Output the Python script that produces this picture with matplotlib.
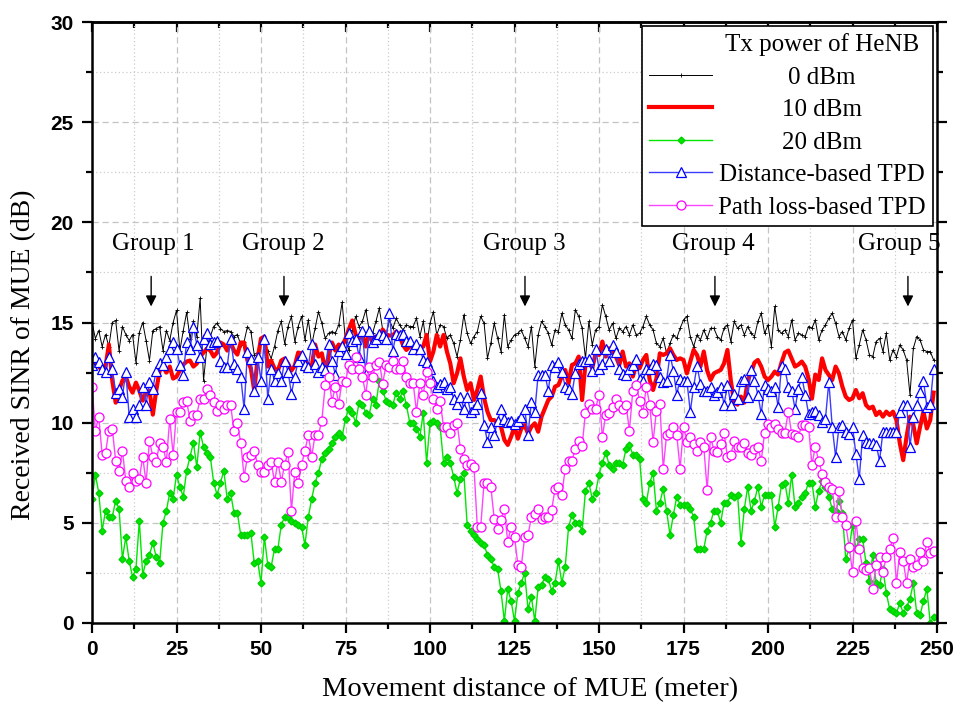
import matplotlib
matplotlib.use('Agg')
import matplotlib.pyplot as plt
from matplotlib.lines import Line2D
from matplotlib.ticker import MultipleLocator
import numpy as np

# movement distance of the MUE, one sample per metre
distance = np.arange(250)

sinr_0dbm = [
    15.0, 14.2, 14.6, 13.8, 14.4, 13.8, 15.0, 15.1, 13.6, 14.8,
    14.4, 14.1, 14.4, 13.0, 14.5, 15.0, 14.1, 13.1, 14.6, 14.7,
    14.8, 13.6, 14.6, 14.1, 15.0, 15.6, 13.6, 14.6, 15.5, 14.2,
    15.05, 14.3, 16.2, 12.1, 13.8, 14.3, 14.8, 14.96, 14.7, 14.55,
    14.6, 14.55, 14.3, 14.4, 13.9, 14.05, 14.8, 14.55, 13.4, 13.5,
    14.2, 14.05, 13.6, 13.2, 13.8, 14.6, 15.05, 13.95, 14.8, 15.3,
    14.05, 14.8, 15.3, 14.13, 15.13, 13.88, 14.71, 15.54, 14.96, 14.21,
    14.46, 14.55, 14.46, 14.88, 16.0, 14.05, 13.63, 14.63, 15.3, 14.8,
    15.05, 15.63, 14.63, 14.46, 15.05, 15.71, 14.63, 14.38, 15.13, 14.71,
    15.21, 14.88, 14.63, 14.88, 14.8, 14.8, 15.21, 14.3, 15.05, 13.88,
    14.96, 15.54, 14.38, 14.88, 14.8, 14.21, 14.38, 13.96, 13.3, 14.13,
    15.38, 14.46, 13.96, 14.3, 14.55, 15.3, 14.96, 13.21, 13.96, 14.96,
    14.21, 13.55, 15.38, 13.8, 14.13, 14.38, 14.46, 14.63, 14.21, 13.8,
    14.8, 12.8, 14.38, 15.05, 14.8, 14.46, 13.88, 14.63, 14.55, 15.46,
    14.88, 14.63, 14.21, 15.63, 15.3, 14.71, 13.21, 15.05, 13.88, 14.63,
    14.8, 15.88, 15.3, 14.63, 14.96, 14.21, 14.71, 14.55, 14.8, 14.38,
    14.88, 14.38, 14.46, 14.8, 15.3, 14.88, 14.63, 13.96, 13.8, 14.21,
    13.46, 13.96, 14.38, 14.21, 14.71, 15.13, 15.3, 14.3, 13.8, 14.38,
    14.13, 14.63, 14.21, 14.71, 14.71, 14.3, 14.13, 14.71, 14.88, 14.05,
    15.05, 14.71, 14.88, 14.38, 14.8, 14.46, 14.3, 15.05, 15.46, 14.46,
    14.88, 13.8, 15.8, 14.63, 14.46, 14.63, 14.3, 15.13, 14.13, 14.46,
    14.38, 14.3, 14.8, 14.71, 15.13, 14.13, 14.63, 14.88, 15.21, 15.46,
    14.96, 14.3, 14.55, 14.13, 14.71, 15.13, 13.21, 13.88, 14.63, 14.13,
    13.38, 13.3, 14.05, 14.21, 13.55, 14.46, 13.13, 13.63, 13.3, 13.88,
    13.63, 13.13, 11.4, 13.71, 14.3, 14.13, 13.63, 13.55, 13.55, 13.13,
]

sinr_10dbm = [
    13.05, 12.9, 12.8, 12.6, 12.8, 13.9, 12.1, 11.0, 11.6, 12.1,
    12.3, 11.8, 11.5, 12.0, 11.6, 11.1, 11.5, 11.6, 10.4, 11.6,
    12.6, 12.8, 12.5, 12.8, 12.2, 12.3, 12.6, 12.9, 13.05, 13.1,
    12.8, 12.95, 13.3, 13.5, 13.7, 13.6, 13.3, 13.5, 14.0, 13.9,
    13.6, 14.0, 13.6, 13.4, 14.0, 14.0, 13.1, 12.7, 11.6, 13.2,
    14.2, 14.3, 12.8, 13.1, 12.7, 12.6, 13.1, 13.2, 12.95, 12.6,
    12.85, 13.5, 13.45, 13.1, 12.9, 12.8, 13.9, 13.3, 13.46, 12.6,
    13.3, 14.0, 13.6, 13.9, 13.8, 14.2, 14.65, 15.1, 14.4, 14.2,
    14.35, 13.8, 14.55, 13.96, 14.3, 14.2, 14.65, 14.4, 14.35, 14.35,
    14.55, 14.35, 13.88, 13.63, 13.8, 13.88, 13.46, 13.71, 13.8, 14.38,
    13.05, 13.55, 14.38, 13.8, 14.38, 13.55, 12.96, 11.97, 12.46, 13.21,
    12.3, 11.63, 11.97, 11.13, 11.63, 12.3, 11.22, 10.55, 10.13, 10.13,
    9.97, 9.8, 9.14, 8.89, 9.3, 9.8, 9.2, 9.7, 9.88, 9.46,
    9.8, 9.97, 9.55, 10.3, 10.71, 11.13, 11.3, 11.8, 11.88, 12.3,
    12.63, 11.97, 12.88, 12.96, 13.3, 11.13, 12.96, 13.13, 12.71, 13.46,
    13.38, 14.05, 13.3, 13.71, 13.55, 13.3, 12.88, 13.55, 12.8, 12.96,
    12.3, 12.88, 12.71, 13.13, 13.38, 12.13, 11.63, 12.21, 13.46, 13.38,
    13.46, 13.71, 13.38, 13.13, 13.21, 13.13, 12.46, 13.05, 13.63, 13.38,
    12.8, 13.55, 12.6, 12.13, 12.46, 12.55, 12.63, 12.96, 13.63, 12.1,
    11.0, 10.9, 11.3, 11.0, 12.1, 12.5, 13.0, 13.13, 12.8, 12.3,
    12.13, 12.3, 12.55, 12.4, 13.0, 13.5, 13.6, 13.2, 12.8, 12.9,
    13.05, 12.8, 12.2, 11.2, 12.4, 12.13, 13.21, 12.63, 12.38, 12.13,
    12.8, 12.46, 11.8, 11.3, 11.13, 11.22, 11.63, 11.22, 11.47, 10.88,
    10.71, 10.8, 10.38, 10.55, 10.3, 10.55, 10.38, 10.55, 10.13, 8.97,
    8.13, 9.3, 10.3, 9.88, 8.97, 9.8, 10.55, 9.71, 10.13, 11.5,
]

sinr_20dbm = [
    6.2, 7.4, 6.5, 4.6, 5.6, 5.3, 5.3, 6.1, 5.7, 3.2,
    4.3, 3.1, 2.3, 2.7, 5.1, 2.4, 3.1, 3.4, 4.0, 3.3,
    3.0, 5.0, 5.6, 6.5, 6.2, 7.4, 6.8, 6.3, 7.6, 8.3,
    9.0, 7.8, 9.5, 8.8, 8.5, 8.3, 7.0, 6.4, 7.0, 7.6,
    6.2, 6.5, 5.5, 5.5, 4.4, 4.4, 4.4, 4.5, 3.0, 3.1,
    2.0, 4.3, 2.9, 2.8, 3.7, 3.7, 4.9, 5.3, 5.3, 5.1,
    5.0, 4.9, 4.8, 3.9, 5.3, 6.2, 7.0, 7.5, 8.2, 8.5,
    8.7, 9.0, 9.3, 9.5, 9.3, 10.2, 10.7, 10.5, 10.0, 11.0,
    10.9, 10.5, 10.4, 11.2, 10.9, 12.1, 11.6, 11.1, 11.0, 10.9,
    11.5, 11.2, 11.6, 10.9, 10.0, 10.0, 9.7, 9.3, 10.5, 8.0,
    10.0, 10.1, 10.0, 9.8, 8.0, 8.3, 8.0, 7.3, 6.5, 7.2,
    7.5, 4.9, 4.6, 4.4, 4.2, 4.0, 3.9, 3.4, 3.2, 2.8,
    2.7, 1.6, 0.1, 1.7, 1.1, 0.1, 1.5, 2.0, 2.5, 0.7,
    1.3, 0.1, 1.8, 1.9, 2.3, 2.2, 1.6, 2.0, 3.1, 2.0,
    2.8, 4.8, 5.4, 5.0, 5.0, 4.6, 6.6, 7.0, 6.2, 6.5,
    7.4, 8.0, 8.5, 7.9, 7.7, 8.0, 8.0, 7.9, 8.7, 8.9,
    8.4, 8.4, 8.2, 6.2, 6.0, 7.0, 7.5, 5.6, 6.0, 6.7,
    5.6, 4.4, 5.4, 6.3, 5.9, 5.9, 5.9, 5.7, 5.3, 3.7,
    3.7, 3.7, 4.6, 5.0, 5.6, 5.6, 5.0, 6.0, 6.0, 6.4,
    6.3, 6.4, 4.0, 5.7, 6.8, 5.6, 6.1, 6.8, 5.8, 6.4,
    6.4, 6.4, 4.8, 5.8, 6.9, 7.0, 6.0, 7.4, 5.8, 6.0,
    6.3, 6.5, 7.0, 7.0, 5.8, 6.6, 7.1, 6.8, 6.3, 5.7,
    5.6, 6.1, 5.5, 3.2, 3.7, 4.9, 3.7, 4.2, 4.2, 3.0,
    2.1, 3.4, 2.0, 1.9, 2.7, 1.5, 0.7, 0.6, 0.5, 1.0,
    0.5, 0.8, 1.2, 2.0, 0.5, 0.4, 1.1, 1.7, 0.0, 0.3,
]

sinr_dist_tpd = [
    12.9, 13.3, 13.05, 12.7, 12.55, 13.3, 12.7, 11.5, 11.7, 11.3,
    12.55, 10.3, 10.7, 10.3, 10.9, 11.8, 10.9, 12.05, 11.7, 12.6,
    13.0, 12.9, 13.3, 13.7, 14.05, 13.7, 12.9, 12.4, 14.05, 13.7,
    14.8, 13.9, 13.3, 14.2, 14.5, 13.95, 14.05, 14.1, 13.1, 12.8,
    12.8, 14.2, 12.95, 12.7, 12.3, 10.7, 13.55, 13.2, 11.6, 13.3,
    12.1, 14.2, 11.2, 12.7, 12.1, 12.5, 12.1, 13.1, 12.55, 11.45,
    12.3, 13.1, 13.4, 12.9, 12.8, 13.95, 12.95, 12.55, 12.8, 12.65,
    13.95, 13.1, 12.4, 13.6, 13.85, 13.45, 14.5, 14.1, 14.2, 13.3,
    14.6, 12.45, 14.6, 14.05, 14.2, 14.45, 14.4, 14.2, 15.45, 13.6,
    14.45, 14.4, 14.45, 14.1, 14.1, 13.7, 13.95, 13.7, 13.15, 13.05,
    12.7, 12.1, 11.8, 11.95, 12.05, 11.7, 11.8, 11.2, 10.95, 11.3,
    10.7, 11.3, 10.55, 10.7, 10.95, 11.5, 9.9, 9.05, 9.8, 9.4,
    10.1, 10.7, 10.2, 10.05, 10.1, 9.95, 10.1, 10.3, 10.7, 9.4,
    11.05, 10.55, 12.4, 12.4, 12.4, 11.6, 12.9, 12.8, 13.05, 12.55,
    11.8, 11.7, 11.45, 12.5, 12.95, 13.1, 13.1, 13.2, 12.6, 13.7,
    12.7, 12.95, 13.7, 13.1, 13.9, 13.55, 12.7, 12.45, 12.4, 12.7,
    12.9, 13.2, 12.2, 12.1, 12.7, 12.7, 12.95, 12.9, 12.3, 12.05,
    12.1, 13.4, 12.6, 11.4, 12.2, 12.1, 12.1, 10.55, 11.8, 12.85,
    11.95, 11.6, 11.6, 11.8, 11.4, 11.55, 11.8, 10.9, 11.9, 10.9,
    11.45, 11.2, 12.1, 12.2, 11.3, 12.65, 12.1, 11.4, 10.45, 11.9,
    11.7, 11.6, 11.8, 10.8, 12.85, 12.7, 11.8, 11.6, 10.7, 11.7,
    12.3, 11.4, 10.45, 10.55, 10.6, 10.4, 10.05, 10.2, 12.05, 9.8,
    8.3, 9.8, 9.9, 9.55, 9.45, 9.8, 8.45, 7.2, 9.4, 9.05,
    8.97, 8.97, 8.9, 8.1, 9.55, 9.55, 9.55, 9.55, 9.55, 10.55,
    10.9, 10.9, 8.8, 10.3, 10.9, 11.55, 12.1, 10.8, 10.95, 12.7,
]

sinr_pl_tpd = [
    11.8, 9.6, 10.3, 8.4, 8.5, 9.6, 9.7, 8.1, 7.6, 8.6,
    7.1, 6.8, 7.5, 7.1, 7.2, 8.3, 7.0, 9.1, 8.3, 8.05,
    9.0, 8.8, 8.05, 10.2, 8.4, 10.55, 10.55, 11.05, 11.1, 10.1,
    10.4, 10.4, 11.2, 11.2, 11.7, 11.4, 11.05, 10.6, 10.9, 10.7,
    10.9, 10.9, 9.6, 9.96, 9.0, 7.3, 8.3, 8.4, 8.6, 7.9,
    7.55, 7.55, 7.9, 8.05, 7.05, 8.05, 7.05, 7.9, 8.55, 5.6,
    7.55, 6.97, 7.9, 8.6, 9.4, 8.3, 9.4, 9.4, 10.1, 11.9,
    12.3, 11.05, 11.8, 10.95, 12.1, 12.05, 12.9, 12.7, 13.3, 12.7,
    12.3, 11.4, 12.8, 12.3, 12.9, 13.05, 11.95, 12.9, 12.8, 13.1,
    12.7, 12.7, 13.1, 12.3, 12.0, 12.0, 10.55, 12.0, 11.4, 12.55,
    12.0, 11.2, 10.7, 11.1, 9.8, 9.8, 9.5, 9.9, 10.0, 8.7,
    8.2, 7.9, 7.95, 7.8, 4.8, 4.8, 7.0, 7.0, 6.8, 5.2,
    4.7, 5.15, 5.7, 4.05, 4.8, 4.3, 2.9, 2.8, 4.3, 4.4,
    5.3, 5.45, 5.7, 5.2, 5.3, 5.3, 5.65, 6.7, 6.8, 6.4,
    7.7, 8.1, 8.1, 8.7, 9.1, 8.85, 10.5, 10.95, 10.7, 10.7,
    11.4, 9.3, 10.4, 10.5, 10.8, 11.2, 10.9, 10.7, 10.9, 9.6,
    11.6, 11.9, 11.1, 10.5, 11.8, 10.9, 9.05, 10.6, 10.95, 7.7,
    9.4, 9.5, 9.8, 9.4, 7.7, 9.8, 9.05, 9.3, 8.95, 8.6,
    9.05, 8.8, 6.65, 9.3, 8.6, 8.55, 8.95, 9.5, 8.3, 8.4,
    9.1, 8.8, 8.8, 9.0, 8.5, 8.4, 8.7, 8.8, 8.1, 9.5,
    9.95, 9.8, 9.95, 9.7, 9.5, 9.5, 10.55, 9.45, 9.4, 9.3,
    9.9, 9.9, 9.8, 7.9, 8.8, 8.1, 7.45, 7.05, 6.8, 6.7,
    5.3, 6.6, 5.3, 4.9, 3.8, 2.55, 5.1, 3.7, 2.75, 2.65,
    2.75, 1.7, 2.9, 3.3, 2.55, 3.3, 3.7, 4.25, 2.0, 3.55,
    3.1, 2.0, 3.2, 2.8, 2.9, 3.55, 3.1, 4.05, 3.5, 3.6,
]

group_names = ['Group 1', 'Group 2', 'Group 3', 'Group 4', 'Group 5']
group_arrow_x = [17.5, 56.8, 128.1, 184.3, 241.4]
group_text_x = [18.0, 56.5, 127.8, 183.9, 238.8]

serif = 'Liberation Serif'
sans = 'Liberation Sans'

fig = plt.figure(figsize=(9.6, 7.08), dpi=100)
ax = fig.add_axes([92 / 960, 1 - 623 / 708, 845 / 960, 601 / 708])

ax.plot(distance, sinr_0dbm, color='black', lw=0.7, marker='+', ms=3, mew=0.6,
        label='0 dBm')
ax.plot(distance, sinr_10dbm, color='#ff0000', lw=3, label='10 dBm')
ax.plot(distance, sinr_20dbm, color='#00e600', lw=1, marker='D', ms=3.5,
        mec='#00d000', mfc='#00e600', label='20 dBm')
ax.plot(distance, sinr_dist_tpd, color='#3c3cff', lw=1, marker='^', ms=6.5,
        mfc='white', mec='#0000ff', mew=0.9, label='Distance-based TPD')
ax.plot(distance, sinr_pl_tpd, color='#ff44ff', lw=1, marker='o', ms=6.5,
        mfc='white', mec='#ff00ff', mew=0.9, label='Path loss-based TPD')

ax.set_xlim(0, 250)
ax.set_ylim(0, 30)
ax.xaxis.set_major_locator(MultipleLocator(25))
ax.xaxis.set_minor_locator(MultipleLocator(12.5))
ax.yaxis.set_major_locator(MultipleLocator(5))
ax.yaxis.set_minor_locator(MultipleLocator(2.5))
ax.grid(which='major', color='#c4c4c4', ls=(0, (5, 3)), lw=0.9)
ax.grid(which='minor', color='#cccccc', ls=(0, (1, 2)), lw=0.9)
ax.set_axisbelow(True)

for sp in ax.spines.values():
    sp.set_linewidth(1.8)
ax.tick_params(which='both', direction='out', width=1.6, right=True)
ax.tick_params(which='major', length=7.2)
ax.tick_params(which='minor', length=4.3)
ax.tick_params(axis='y', which='major', pad=6)
ax.tick_params(axis='x', which='major', pad=5)
for lab in ax.get_xticklabels() + ax.get_yticklabels():
    lab.set_fontfamily(sans)
    lab.set_fontweight('bold')
    lab.set_fontsize(15)

# top axis: ticks pointing inwards, no labels
top = ax.secondary_xaxis('top')
top.xaxis.set_major_locator(MultipleLocator(25))
top.xaxis.set_minor_locator(MultipleLocator(12.5))
top.tick_params(which='both', direction='in', width=1.6, labeltop=False)
top.tick_params(which='major', length=7.2)
top.tick_params(which='minor', length=4.3)
top.spines['top'].set_linewidth(1.8)

ax.set_xlabel('Movement distance of MUE (meter)', family=serif, fontsize=20.5)
ax.set_ylabel('Received SINR of MUE (dB)', family=serif, fontsize=20)
ax.xaxis.set_label_coords(0.518, -0.09)
ax.yaxis.set_label_coords(-0.066, 0.446)

for name, xa, xt in zip(group_names, group_arrow_x, group_text_x):
    ax.text(xt, 18.9, name, ha='center', va='center', family=serif, fontsize=18)
    ax.annotate('', xy=(xa, 15.8), xytext=(xa, 17.3),
                arrowprops=dict(arrowstyle='-|>', color='black', lw=1.0,
                                mutation_scale=16, shrinkA=0, shrinkB=0))

# legend: the title is an entry with an empty handle, labels centred in column
handles, labels = ax.get_legend_handles_labels()
title_handle = Line2D([], [], color='none')
leg = ax.legend([title_handle] + handles, ['Tx power of HeNB'] + labels,
                loc='upper right', bbox_to_anchor=(1, 1), borderaxespad=0.15,
                prop={'family': serif, 'size': 18}, handlelength=2.5,
                handletextpad=0.25, labelspacing=0.40, borderpad=0.3,
                fancybox=False, framealpha=1, edgecolor='black')
leg.get_frame().set_linewidth(1.2)

fig.canvas.draw()
texts = leg.get_texts()
boxes = [t.get_window_extent() for t in texts]
cx = (min(b.x0 for b in boxes) + max(b.x1 for b in boxes)) / 2
for t, b in zip(texts, boxes):
    # legend text coordinates are display pixels relative to its box
    t.set_x(cx - (b.x0 + b.x1) / 2)

fig.savefig('out.png', dpi=100)
